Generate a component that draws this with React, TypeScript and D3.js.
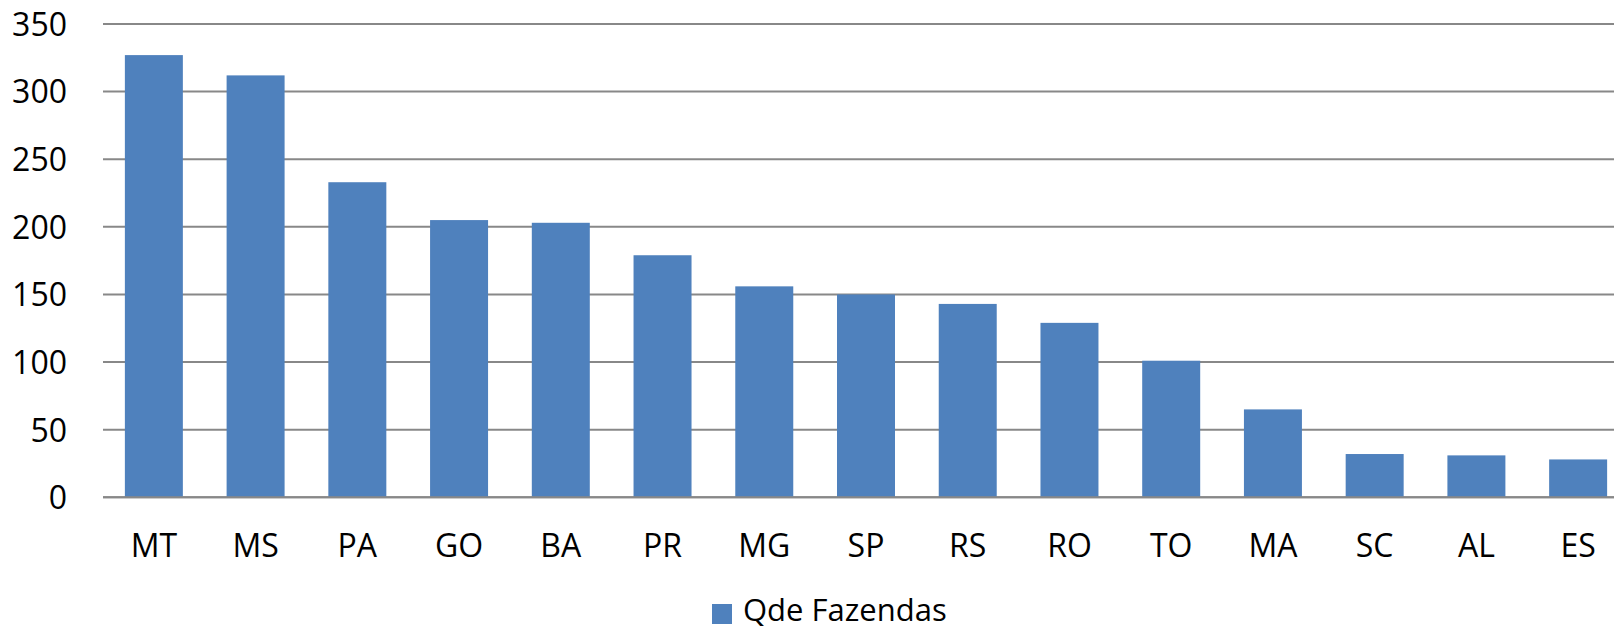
import React from 'react';
import * as d3 from 'd3';

// data
const states = ['MT', 'MS', 'PA', 'GO', 'BA', 'PR', 'MG', 'SP', 'RS', 'RO', 'TO', 'MA', 'SC', 'AL', 'ES'];
const fazendas = [327, 312, 233, 205, 203, 179, 156, 150, 143, 129, 101, 65, 32, 31, 28];
const yTicks = [0, 50, 100, 150, 200, 250, 300, 350];
const seriesName = 'Qde Fazendas';

const width = 1614;
const height = 630;
const font = '"Open Sans", "Noto Sans", sans-serif';
const barColor = '#4F81BD';
const gridColor = '#888888';

const App = () => {
  // plot area runs past the right edge, like the original
  const x = d3.scaleBand<string>()
    .domain(states)
    .range([103, 1629])
    .paddingInner(0.43)
    .paddingOuter(0.215);

  const y = d3.scaleLinear()
    .domain([0, 350])
    .range([497.3, 24]);

  return (
    <svg
      width={width}
      height={height}
      style={{ position: 'absolute', left: 0, top: 0, background: '#fff' }}
      fontFamily={font}
    >
      {/* gridlines */}
      {yTicks.map(t => (
        <line
          key={'g' + t}
          x1={103}
          x2={width}
          y1={y(t)}
          y2={y(t)}
          stroke={gridColor}
          strokeWidth={2}
        />
      ))}

      {/* y tick labels */}
      {yTicks.map(t => (
        <text
          key={'t' + t}
          x={67}
          y={y(t)}
          dy="0.37em"
          textAnchor="end"
          fontSize={32}
          fill="#000"
        >
          {t}
        </text>
      ))}

      {/* bars */}
      {states.map((s, i) => (
        <rect
          key={s}
          x={x(s)}
          y={y(fazendas[i])}
          width={x.bandwidth()}
          height={y(0) - y(fazendas[i])}
          fill={barColor}
        />
      ))}

      {/* baseline */}
      <line x1={103} x2={width} y1={y(0)} y2={y(0)} stroke={gridColor} strokeWidth={2} />

      {/* x labels */}
      {states.map(s => (
        <text
          key={'x' + s}
          x={(x(s) ?? 0) + x.bandwidth() / 2}
          y={y(0) + 60}
          textAnchor="middle"
          fontSize={32}
          fill="#000"
        >
          {s}
        </text>
      ))}

      {/* legend */}
      <g transform="translate(712, 604)">
        <rect x={0} y={0} width={20} height={20} fill={barColor} />
        <text x={31} y={17} fontSize={31} fill="#000">
          {seriesName}
        </text>
      </g>
    </svg>
  );
};

export default App;
